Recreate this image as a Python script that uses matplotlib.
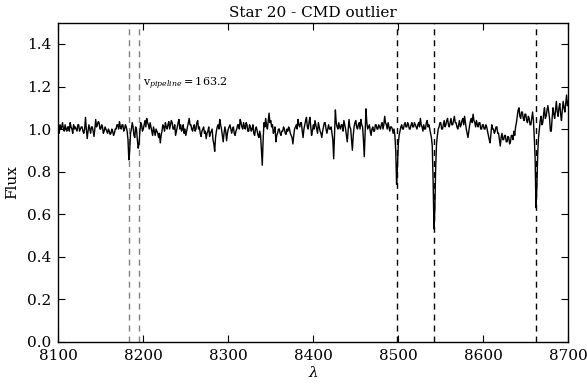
import numpy as np
import matplotlib
matplotlib.use("Agg")
import matplotlib.pyplot as plt

# Spectrum sampled every 1 Angstrom from 8100 to 8700
lam_start = 8100.0
lam_step = 1.0
flux = [
    1.00, 0.98, 1.02, 1.00, 1.01, 1.03, 1.00, 0.99, 1.02, 1.00, 0.99, 1.01, 1.01, 0.99, 1.03, 1.01, 1.00, 0.98, 1.02, 1.00,   # 8100
    1.01, 1.00, 0.99, 1.02, 1.02, 0.99, 1.00, 1.01, 1.01, 0.99, 0.98, 1.00, 1.055, 1.00, 0.955, 0.99, 1.02, 1.00, 0.98, 1.01, # 8120
    1.01, 0.99, 0.965, 1.00, 1.045, 1.01, 1.02, 1.035, 1.03, 1.00, 1.00, 1.02, 1.01, 0.98, 0.99, 1.01, 1.00, 0.99, 0.98, 1.00, # 8140
    0.99, 0.975, 0.98, 1.00, 0.99, 0.97, 0.98, 1.00, 1.00, 1.02, 1.02, 1.00, 1.035, 1.01, 1.00, 1.02, 1.02, 0.99, 1.00, 1.02, # 8160
    1.01, 0.99, 0.95, 0.855, 0.90, 0.98, 1.00, 1.03, 1.01, 0.97, 0.96, 1.01, 1.00, 0.95, 0.91, 0.93, 0.99, 1.03, 1.02, 0.99,  # 8180
    1.00, 1.02, 1.04, 1.01, 1.05, 1.03, 1.02, 1.00, 1.03, 1.01, 0.99, 0.97, 1.01, 0.99, 0.97, 1.00, 0.99, 0.98, 0.96, 0.98,   # 8200
    0.935, 0.97, 0.99, 1.02, 1.01, 0.99, 1.03, 1.01, 1.00, 1.02, 1.035, 1.00, 1.02, 1.04, 1.03, 1.00, 1.00, 1.02, 0.97, 0.99, # 8220
    1.01, 1.03, 1.045, 1.00, 1.02, 0.99, 1.00, 1.02, 0.98, 1.00, 0.97, 0.99, 1.01, 1.03, 1.05, 1.02, 1.02, 1.00, 0.99, 1.01,  # 8240
    1.02, 0.99, 1.00, 1.03, 1.04, 1.00, 1.01, 0.98, 0.965, 0.99, 1.00, 1.01, 0.98, 0.99, 0.955, 0.98, 0.99, 1.01, 0.965, 0.98,# 8260
    0.99, 1.00, 0.95, 0.93, 0.895, 0.96, 0.99, 1.01, 1.02, 1.00, 1.045, 1.02, 1.00, 0.97, 0.94, 0.98, 1.01, 0.99, 0.945, 0.98,# 8280
    1.00, 1.01, 1.02, 1.00, 0.98, 1.00, 1.01, 0.98, 0.97, 0.99, 1.00, 1.02, 1.02, 1.00, 1.045, 1.03, 1.01, 1.00, 1.03, 1.01,  # 8300
    1.00, 1.03, 1.02, 0.99, 0.99, 1.02, 1.01, 0.99, 1.00, 1.02, 0.98, 0.97, 1.00, 1.01, 0.99, 0.97, 0.96, 0.99, 0.97, 0.90,   # 8320
    0.83, 0.95, 1.03, 1.01, 1.05, 1.02, 1.00, 1.04, 1.075, 1.03, 1.04, 1.01, 1.02, 0.98, 0.99, 1.01, 0.94, 0.97, 0.98, 1.00,  # 8340
    1.00, 0.98, 0.97, 0.99, 0.99, 1.01, 1.00, 0.98, 0.975, 1.00, 0.99, 1.01, 1.00, 0.98, 0.97, 0.96, 0.93, 0.97, 1.00, 1.01,  # 8360
    1.02, 1.00, 1.045, 1.02, 1.01, 1.03, 1.03, 0.99, 0.96, 1.00, 1.02, 1.04, 1.055, 1.01, 1.00, 1.03, 1.055, 1.01, 0.97, 0.99,# 8380
    1.02, 1.00, 1.04, 1.02, 1.00, 0.98, 1.03, 1.01, 0.99, 0.98, 0.96, 0.99, 1.01, 1.03, 1.03, 1.00, 0.98, 1.00, 1.02, 1.00,   # 8400
    1.00, 1.01, 0.98, 0.95, 0.86, 0.97, 1.09, 1.03, 1.01, 1.00, 1.03, 1.01, 1.00, 1.02, 1.02, 0.99, 1.04, 1.02, 1.00, 0.97,   # 8420
    0.94, 0.99, 1.045, 1.01, 1.00, 0.95, 0.90, 0.97, 1.01, 1.03, 1.04, 1.01, 1.00, 1.02, 1.03, 1.00, 1.045, 1.02, 1.01, 0.95, # 8440
    0.87, 0.98, 1.095, 1.03, 1.00, 1.01, 1.02, 0.99, 0.97, 1.00, 1.01, 0.99, 0.99, 1.02, 1.02, 1.00, 1.00, 1.02, 1.01, 1.00,  # 8460
    1.02, 1.03, 1.00, 1.02, 1.06, 1.03, 1.02, 1.00, 1.03, 1.01, 0.99, 1.01, 1.01, 1.00, 0.98, 1.00, 0.97, 0.90, 0.74, 0.82,   # 8480
    0.93, 0.97, 0.99, 1.01, 1.02, 1.00, 1.00, 1.02, 1.03, 1.01, 1.01, 1.03, 1.02, 1.00, 1.00, 1.02, 1.03, 1.01, 1.01, 1.03,   # 8500
    1.02, 1.01, 1.00, 1.02, 1.03, 1.01, 1.05, 1.02, 1.01, 0.99, 1.02, 1.00, 1.00, 1.03, 1.04, 1.01, 1.02, 1.00, 0.98, 0.96,   # 8520
    0.92, 0.75, 0.53, 0.62, 0.82, 0.93, 0.97, 1.00, 1.01, 1.03, 1.03, 1.00, 1.00, 1.02, 1.04, 1.01, 1.02, 1.04, 1.05, 1.02,   # 8540
    1.01, 1.03, 1.05, 1.02, 1.02, 1.04, 1.06, 1.03, 1.03, 1.01, 1.00, 1.02, 1.04, 1.01, 1.02, 1.04, 1.05, 1.02, 1.06, 1.03,   # 8560
    1.00, 0.98, 0.96, 0.99, 1.02, 1.04, 1.05, 1.03, 1.07, 1.04, 1.03, 1.01, 1.04, 1.02, 1.01, 1.03, 1.03, 1.00, 1.00, 1.02,   # 8580
    1.02, 1.00, 1.00, 1.02, 1.01, 0.99, 0.97, 0.95, 0.935, 0.98, 1.02, 1.00, 1.00, 0.98, 0.99, 1.01, 1.01, 0.98, 0.98, 0.95,  # 8600
    0.92, 0.96, 0.98, 0.95, 0.95, 0.97, 0.97, 0.94, 0.94, 0.965, 0.96, 0.93, 0.94, 0.97, 0.97, 0.95, 0.99, 0.97, 1.01, 1.03,  # 8620
    1.06, 1.09, 1.10, 1.06, 1.05, 1.08, 1.08, 1.05, 1.04, 1.07, 1.07, 1.04, 1.03, 1.06, 1.05, 1.02, 1.02, 1.05, 1.08, 1.04,   # 8640
    0.96, 0.86, 0.63, 0.72, 0.88, 0.96, 1.00, 1.04, 1.06, 1.02, 1.03, 1.07, 1.10, 1.05, 1.06, 1.09, 1.11, 1.08, 1.05, 0.99,   # 8660
    0.99, 1.05, 1.10, 1.07, 1.05, 1.09, 1.13, 1.08, 1.06, 1.10, 1.12, 1.07, 1.04, 1.09, 1.13, 1.10, 1.08, 1.12, 1.16, 1.11,   # 8680
    1.13,                                                                                                                     # 8700
]
wavelength = lam_start + lam_step * np.arange(len(flux))

na_lines = [8183.26, 8194.82]
ca_lines = [8498.02, 8542.09, 8662.14]

title = "Star 20 - CMD outlier"
annotation = r"$\mathrm{v}_{pipeline}=163.2$"
x_ticks = [8100, 8200, 8300, 8400, 8500, 8600, 8700]
y_ticks = [0.0, 0.2, 0.4, 0.6, 0.8, 1.0, 1.2, 1.4]

plt.rcParams["font.family"] = ["DejaVu Serif"]
plt.rcParams["mathtext.fontset"] = "dejavuserif"
plt.rcParams["xtick.direction"] = "in"
plt.rcParams["ytick.direction"] = "in"
plt.rcParams["xtick.top"] = True
plt.rcParams["ytick.right"] = True

fig = plt.figure(figsize=(5.87, 3.85), dpi=100)
ax = fig.add_axes([0.0993, 0.1125, 0.8688, 0.8285])

for lam in na_lines:
    ax.axvline(lam, color="0.5", lw=1.0, ls=(0, (4.3, 3.6)))
for lam in ca_lines:
    ax.axvline(lam, color="k", lw=1.0, ls=(0, (4.3, 3.6)))

ax.plot(wavelength, flux, color="k", lw=1.0)

ax.text(8200, 1.2, annotation, fontsize=8, va="baseline", ha="left")

ax.set_xlim(8100, 8700)
ax.set_ylim(0.0, 1.5)
ax.set_xticks(x_ticks)
ax.set_yticks(y_ticks)
ax.tick_params(which="major", length=5, width=0.8, labelsize=11, pad=5)
for s in ax.spines.values():
    s.set_linewidth(1.0)

ax.set_title(title, fontsize=11, pad=4)
ax.set_xlabel(r"$\lambda$", fontsize=11, labelpad=2)
ax.set_ylabel("Flux", fontsize=11, labelpad=6)

fig.savefig("out.png", dpi=100, facecolor="white")
